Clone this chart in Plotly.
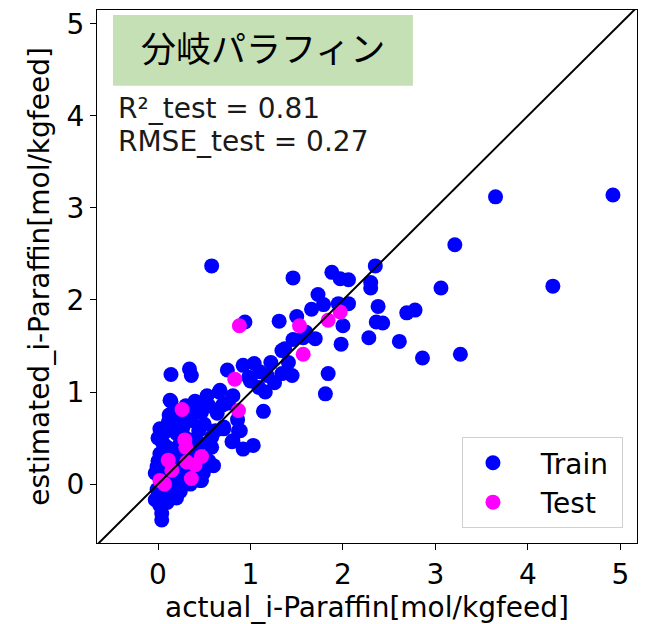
import plotly.graph_objects as go

# ---- data ----
train_x = [0.58, 1.46, 1.88, 1.97, 2.06, 2.35, 2.30, 2.30, 1.73, 1.79, 1.66, 1.95, 2.06, 2.38,
           1.50, 0.94, 1.31, 2.00, 2.36, 2.43, 2.69, 2.78, 2.28, 2.61, 1.98, 2.86, 3.27, 3.06,
           3.21, 3.65, 4.92, 4.27, 1.84, 1.81, 1.70, 1.46, 1.57, 1.37, 1.34, 1.41, 1.34, 1.45,
           1.22, 1.04, 0.92, 0.75, 0.34, 0.36, 0.14, 0.98, 1.09, 1.16, 1.18, 0.66, 0.53, 0.81,
           0.67, 0.14, 1.14, 0.64, 0.45, 0.89, 0.81, 0.92, 1.03, 0.71, 0.58, 0.47, 0.13,
           0.04, 0.04, 0.02, -0.03, 0.06, 0.17, 0.27, 0.45, 0.49, -0.01, -0.03, 0.11, -0.01,
           0.02, 0.20, 0.24, 0.35, 0.45, 0.58, 0.44, 0.27, 0.11, 0.08, 0.36, 0.47, 0.13, 0.87,
           0.71, 0.80, 0.05, 0.00, 0.03, 0.10, 0.15, 0.20, 0.30, 0.10, 0.05, 0.15, 0.25, 0.30,
           0.38, 0.40, 0.08, 0.00, 0.12, 0.20, 0.25, 0.30, 0.50, 0.55, 0.60, 0.35, 0.10, 0.20,
           0.02, 0.18, 0.22, 0.50, 0.40, 0.35, 0.06, 0.16, 0.28, 0.33, 0.42, 0.52, 0.62, 0.70,
           0.76, 0.86, 1.00, 1.10, 1.26, 1.60, 0.55, 0.18, 0.07, 0.24]
train_y = [2.37, 2.24, 2.30, 2.23, 2.22, 2.37, 2.19, 2.13, 2.06, 1.95, 1.90, 1.96, 1.96, 1.93,
           1.82, 1.76, 1.77, 1.72, 1.76, 1.75, 1.86, 1.89, 1.59, 1.55, 1.52, 1.37, 1.41, 2.13,
           2.60, 3.12, 3.14, 2.15, 1.20, 0.98, 1.58, 1.57, 1.59, 1.47, 1.45, 1.32, 1.20, 1.18,
           1.32, 1.31, 1.29, 1.24, 1.25, 1.18, 1.19, 1.16, 1.05, 1.00, 1.18, 1.00, 0.96, 0.96,
           1.02, 0.90, 0.79, 0.77, 0.80, 0.58, 0.47, 0.38, 0.42, 0.60, 0.40, 0.04, 0.67,
           -0.32, -0.39, -0.23, -0.17, -0.10, -0.03, 0.01, 0.04, 0.12, -0.06, 0.12, 0.08, 0.19,
           0.33, 0.30, 0.44, 0.48, 0.44, 0.51, 0.58, 0.62, 0.67, 0.57, 0.69, 0.78, 0.91, 0.58,
           0.62, 0.46, 0.45, 0.25, 0.00, 0.15, 0.35, 0.55, 0.35, 0.40, 0.10, -0.10, 0.20, 0.10,
           0.30, 0.15, 0.30, 0.50, 0.75, 0.80, 0.70, 0.85, 0.65, 0.25, 0.20, 0.00, -0.20, -0.15,
           0.60, 0.22, 0.05, 0.90, 0.90, 0.75, 0.20, 0.62, 0.52, 0.22, 0.36, 0.20, 0.58, 0.86,
           0.88, 0.70, 1.12, 1.22, 1.10, 1.65, 0.85, 0.38, -0.02, -0.08]

test_x = [0.88, 1.97, 1.84, 1.53, 1.57, 0.83, 0.87, 0.26, 0.29, 0.47, 0.40, 0.31, 0.11,
          0.36, 0.02, 0.07, 0.30, 0.15]
test_y = [1.72, 1.87, 1.78, 1.72, 1.41, 1.14, 0.80, 0.81, 0.48, 0.30, 0.21, 0.24, 0.26,
          0.06, 0.04, 0.00, 0.40, 0.15]

axis_min, axis_max = -0.66, 5.18
y_axis_min, y_axis_max = -0.64, 5.15
tick_vals = [0, 1, 2, 3, 4, 5]

series_names = ["Train", "Test"]
title_text = "分岐パラフィン"
r2_text = "R²_test = 0.81"
rmse_text = "RMSE_test = 0.27"

FONT = "DejaVu Sans"
NB = "\u00a0"

fig = go.Figure()
fig.add_trace(go.Scatter(x=train_x, y=train_y, mode="markers",
                         name=NB * 2 + series_names[0] + NB,
                         marker=dict(color="#0000ff", size=15, line=dict(width=0))))
fig.add_trace(go.Scatter(x=test_x, y=test_y, mode="markers",
                         name=NB * 2 + series_names[1] + NB,
                         marker=dict(color="#ff00ff", size=15, line=dict(width=0))))
fig.add_trace(go.Scatter(x=[axis_min, axis_max], y=[axis_min, axis_max], mode="lines",
                         line=dict(color="black", width=2), showlegend=False, hoverinfo="skip"))

axis_common = dict(showgrid=False, zeroline=False, showline=True, linecolor="black",
                   linewidth=1.2, mirror=True, ticks="outside", ticklen=6, tickwidth=1.2,
                   tickcolor="black", tickvals=tick_vals,
                   tickfont=dict(family=FONT, size=28, color="black"))

fig.update_layout(
    width=648, height=624,
    margin=dict(l=97, r=11, t=8, b=81),
    paper_bgcolor="white", plot_bgcolor="white",
    xaxis=dict(range=[axis_min, axis_max], **axis_common,
               title=dict(text="actual_i-Paraffin[mol/kgfeed]",
                          font=dict(family=FONT, size=28, color="black"), standoff=4)),
    yaxis=dict(range=[y_axis_min, y_axis_max], **axis_common,
               title=dict(text="estimated_i-Paraffin[mol/kgfeed]",
                          font=dict(family=FONT, size=28, color="black"), standoff=8)),
    legend=dict(x=0.974, y=0.028, xanchor="right", yanchor="bottom",
                bgcolor="white", bordercolor="#d0d0d0", borderwidth=1,
                font=dict(family=FONT, size=28, color="black"),
                itemwidth=50, tracegroupgap=0),
    showlegend=True,
)

fig.add_shape(type="rect", xref="paper", yref="paper",
              x0=0.0296, x1=0.585, y0=0.858, y1=0.9907,
              fillcolor="#c5e0b4", line=dict(width=0), layer="above")
fig.add_annotation(text=title_text, xref="paper", yref="paper", x=0.307, y=0.931,
                   xanchor="center", yanchor="middle", showarrow=False,
                   font=dict(family="Noto Sans CJK JP", size=35, color="black"))
fig.add_annotation(text=r2_text, xref="paper", yref="paper", x=0.035, y=0.816,
                   xanchor="left", yanchor="middle", showarrow=False,
                   font=dict(family=FONT, size=28, color="#1a1a1a"))
fig.add_annotation(text=rmse_text, xref="paper", yref="paper", x=0.035, y=0.754,
                   xanchor="left", yanchor="middle", showarrow=False,
                   font=dict(family=FONT, size=28, color="#1a1a1a"))

fig.write_html("out.html")
